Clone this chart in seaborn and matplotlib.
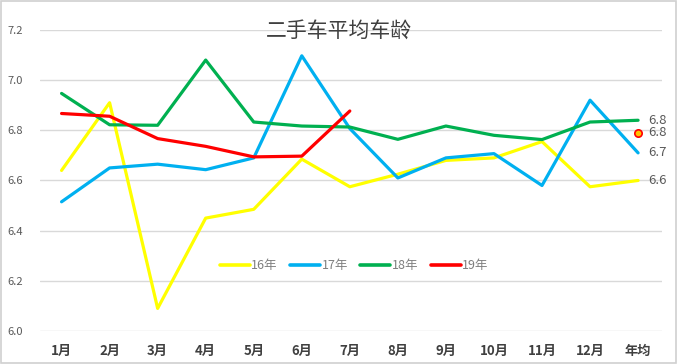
import matplotlib
matplotlib.use("Agg")
import matplotlib.pyplot as plt
import pandas as pd
import seaborn as sns

# Categories and series values
months = ["1月", "2月", "3月", "4月", "5月", "6月", "7月",
          "8月", "9月", "10月", "11月", "12月", "年均"]
series_names = ["16年", "17年", "18年", "19年"]
y16 = [6.64, 6.91, 6.09, 6.45, 6.485, 6.685, 6.575, 6.625, 6.68, 6.69, 6.755, 6.575, 6.60]
y17 = [6.515, 6.65, 6.665, 6.643, 6.69, 7.097, 6.807, 6.61, 6.69, 6.707, 6.58, 6.92, 6.71]
y18 = [6.947, 6.822, 6.82, 7.08, 6.833, 6.817, 6.813, 6.764, 6.817, 6.78, 6.763, 6.833, 6.84]
y19 = [6.867, 6.856, 6.767, 6.736, 6.694, 6.697, 6.877]
avg19 = 6.79
end_labels = ["6.8", "6.8", "6.7", "6.6"]
colors = {"16年": "#FFFF00", "17年": "#00B0F0", "18年": "#00B050", "19年": "#FF0000"}

rows = []
for name, vals in zip(series_names, [y16, y17, y18, y19]):
    for i, v in enumerate(vals):
        rows.append({"x": i, "month": months[i], "value": v, "year": name})
df = pd.DataFrame(rows)

sns.set_theme(style="white")
plt.rcParams["font.family"] = ["Noto Sans CJK SC", "DejaVu Sans"]

fig = plt.figure(figsize=(6.77, 3.64), dpi=100)
ax = fig.add_axes([0.059, 0.0907, 0.919, 0.827])

sns.lineplot(data=df, x="x", y="value", hue="year", hue_order=series_names,
             palette=colors, linewidth=2.3, ax=ax, zorder=3)

# 19年 yearly average marker
ax.scatter([12], [avg19], s=28, color="#FFC000", edgecolor="#FF0000",
           linewidth=1.2, zorder=4)

# value labels at the right end
end_vals = [y18[-1], avg19, y17[-1], y16[-1]]
for lab, v in zip(end_labels, end_vals):
    ax.text(12.22, v, lab, ha="left", va="center", fontsize=9.5, color="#595959")

ax.set_xlim(-0.45, 12.5)
ax.set_ylim(6.0, 7.2)
ax.set_yticks([6.0, 6.2, 6.4, 6.6, 6.8, 7.0, 7.2])
ax.set_yticklabels([f"{t:.1f}" for t in [6.0, 6.2, 6.4, 6.6, 6.8, 7.0, 7.2]])
ax.set_xticks(range(len(months)))
ax.set_xticklabels(months, fontweight="bold")
ax.tick_params(axis="x", labelsize=9.5, colors="#404040", pad=9, length=0)
ax.tick_params(axis="y", labelsize=8, colors="#595959", pad=12, length=0)
ax.set_xlabel("")
ax.set_ylabel("")
ax.grid(axis="y", color="#D9D9D9", linewidth=1)
ax.set_axisbelow(True)
for s in ax.spines.values():
    s.set_visible(False)

leg = ax.legend(loc="center", bbox_to_anchor=(0.505, 0.216), ncol=4,
                frameon=False, fontsize=9, handlelength=2.4,
                columnspacing=1.0, handletextpad=0.1)
for h in leg.get_lines():
    h.set_linewidth(2.6)
for t in leg.get_texts():
    t.set_color("#7F7F7F")

fig.text(0.5, 1 - 31 / 364, "二手车平均车龄", ha="center", va="center",
         fontsize=15, color="#404040")

# light grey frame around the chart
fig.patches.append(plt.Rectangle((0.002, 0.003), 0.996, 0.994, transform=fig.transFigure,
                                 fill=False, edgecolor="#D0D0D0", linewidth=1.2))

fig.savefig("out.png", dpi=100)
